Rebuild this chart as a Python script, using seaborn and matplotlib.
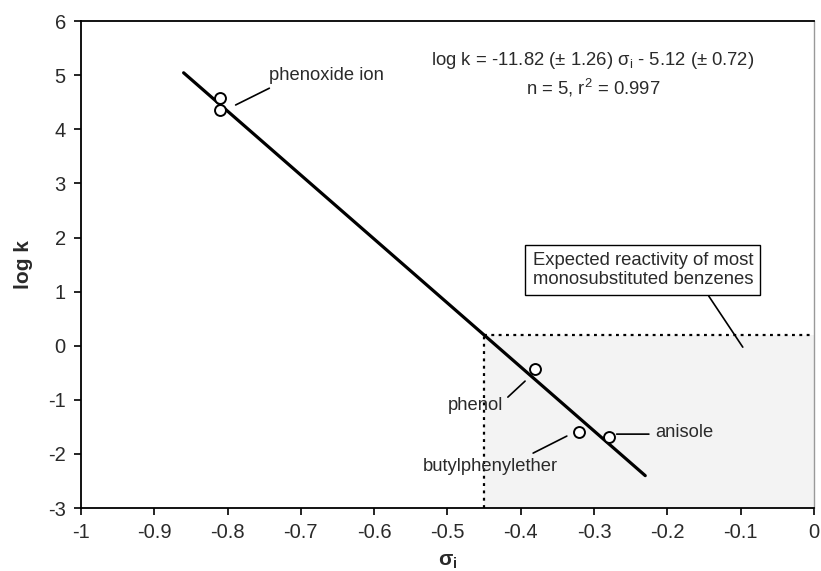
import numpy as np
import pandas as pd
import seaborn as sns
import matplotlib.pyplot as plt

# measured points (sigma_i, log k)
sigma_i = [-0.81, -0.81, -0.38, -0.32, -0.28]
log_k = [4.57, 4.35, -0.43, -1.60, -1.69]
compounds = ["phenoxide ion", "phenoxide ion", "phenol", "butylphenylether", "anisole"]

# regression: log k = slope * sigma_i + intercept
slope, intercept = -11.82, -5.12
fit_range = [-0.86, -0.23]

# expected reactivity region
region_sigma = [-0.45, 0.0]
region_logk = [-3.0, 0.2]

x_ticks = [-1, -0.9, -0.8, -0.7, -0.6, -0.5, -0.4, -0.3, -0.2, -0.1, 0]
x_ticklabels = ["-1", "-0.9", "-0.8", "-0.7", "-0.6", "-0.5", "-0.4", "-0.3", "-0.2", "-0.1", "0"]
y_ticks = [-3, -2, -1, 0, 1, 2, 3, 4, 5, 6]

sns.set_theme(style="ticks")
plt.rcParams["font.family"] = ["Liberation Sans", "DejaVu Sans"]
plt.rcParams["axes.unicode_minus"] = False
plt.rcParams["mathtext.fontset"] = "custom"
plt.rcParams["mathtext.rm"] = "Liberation Sans"
plt.rcParams["mathtext.it"] = "Liberation Sans:italic"
plt.rcParams["mathtext.bf"] = "Liberation Sans:bold"

txt = "#2a2a2a"

df = pd.DataFrame({"sigma": sigma_i, "logk": log_k, "compound": compounds})
fx = np.array(fit_range)
df_fit = pd.DataFrame({"sigma": fx, "logk": slope * fx + intercept})

fig = plt.figure(figsize=(8.21, 5.71), dpi=100)
ax = fig.add_axes([0.0987, 0.1103, 0.8925, 0.8527])

# shaded region + dotted border
ax.fill_between(region_sigma, region_logk[0], region_logk[1], color="#f3f3f3", lw=0, zorder=0)
ax.vlines(region_sigma[0], region_logk[0], region_logk[1], colors="black",
          linestyles=(0, (1.3, 2.0)), lw=1.6, zorder=1)
ax.hlines(region_logk[1], region_sigma[0], region_sigma[1], colors="black",
          linestyles=(0, (1.3, 2.0)), lw=1.6, zorder=1)

sns.lineplot(data=df_fit, x="sigma", y="logk", color="black", lw=2.3, ax=ax, zorder=2)
sns.scatterplot(data=df, x="sigma", y="logk", marker="o", s=62, facecolor="white",
                edgecolor="black", linewidth=1.4, ax=ax, zorder=3)

# labels and leader lines
labels = [
    ("phenoxide ion", (-0.744, 5.0), "left", (-0.789, 4.45), (-0.743, 4.76)),
    ("phenol", (-0.462, -1.10), "center", (-0.4175, -0.95), (-0.394, -0.654)),
    ("butylphenylether", (-0.442, -2.23), "center", (-0.383, -1.985), (-0.337, -1.67)),
    ("anisole", (-0.216, -1.60), "left", (-0.269, -1.634), (-0.225, -1.634)),
]
for name, pos, ha, p0, p1 in labels:
    ax.text(pos[0], pos[1], name, ha=ha, va="center", fontsize=13.2, color=txt, zorder=4)
    ax.annotate("", xy=p1, xytext=p0,
                arrowprops=dict(arrowstyle="-", color="black", lw=1.2, shrinkA=0, shrinkB=0))

ax.text(-0.3015, 5.28, "log k = -11.82 (± 1.26) σ$_\\mathregular{i}$ - 5.12 (± 0.72)",
        ha="center", va="center", fontsize=13.3, color=txt)
ax.text(-0.3015, 4.76, "n = 5, r$^\\mathregular{2}$ = 0.997",
        ha="center", va="center", fontsize=13.3, color=txt)

ax.text(-0.2333, 1.40, "Expected reactivity of most\nmonosubstituted benzenes",
        ha="center", va="center", fontsize=13.3, color=txt, linespacing=1.1,
        bbox=dict(boxstyle="square,pad=0.4", facecolor="white", edgecolor="black", lw=1.0))
ax.annotate("", xy=(-0.0969, -0.026), xytext=(-0.1433, 0.917),
            arrowprops=dict(arrowstyle="-", color="black", lw=1.2, shrinkA=0, shrinkB=0))

ax.set_xlim(-1, 0)
ax.set_ylim(-3, 6)
ax.set_xticks(x_ticks)
ax.set_xticklabels(x_ticklabels)
ax.set_yticks(y_ticks)
ax.tick_params(direction="out", length=5, width=1.2, labelsize=14.5, colors="black",
               labelcolor=txt, pad=6)
ax.set_xlabel("σ$_\\mathbf{i}$", fontsize=15, fontweight="bold", color=txt, labelpad=7)
ax.set_ylabel("log k", fontsize=15, fontweight="bold", color=txt, labelpad=11)

for side in ["left", "bottom", "top"]:
    ax.spines[side].set_visible(True)
    ax.spines[side].set_color("black")
    ax.spines[side].set_linewidth(1.3)
ax.spines["right"].set_visible(True)
ax.spines["right"].set_color("#999999")
ax.spines["right"].set_linewidth(1.0)

fig.savefig("out.png", dpi=100)
